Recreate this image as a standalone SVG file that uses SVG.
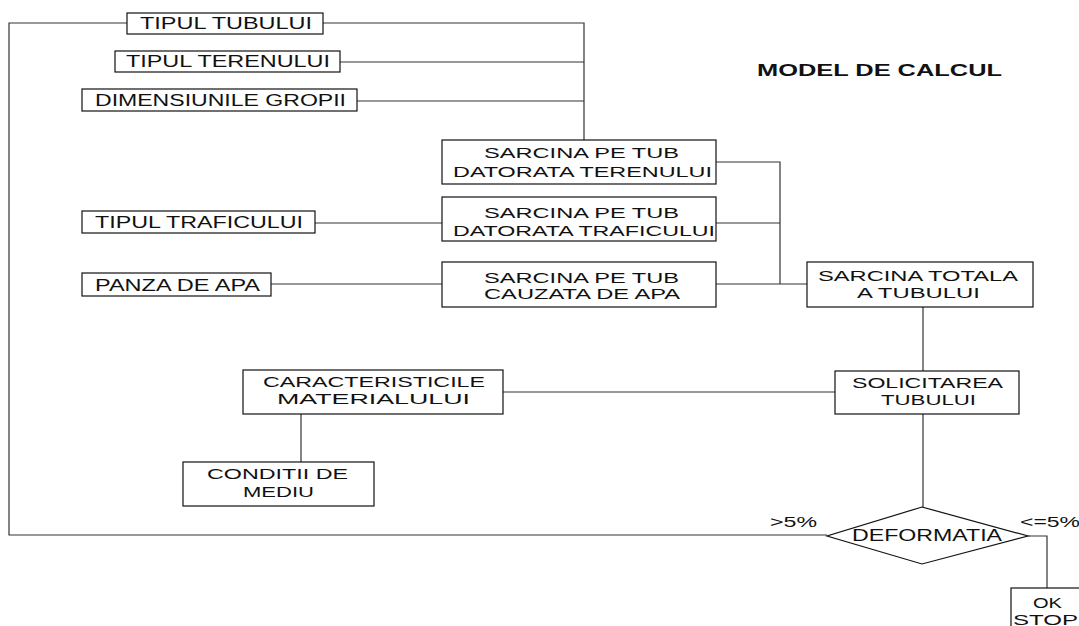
<svg xmlns="http://www.w3.org/2000/svg" width="1079" height="626" viewBox="0 0 1079 626">
<style>
.b{fill:#fff;stroke:#111;stroke-width:1.2}
.t{font-family:"Liberation Sans",Arial,sans-serif;font-size:15px;fill:#111}
.s{font-size:16px}
.c path{fill:none;stroke:#333;stroke-width:1.2}
</style>
<rect width="1079" height="626" fill="#fff"/>
<g class="c" id="connectors">
<path d="M127,23 H9 V535 H827"/>
<path d="M323,23 H584 V140"/>
<path d="M340,62 H584"/>
<path d="M357,101 H584"/>
<path d="M716,162 H780 V284"/>
<path d="M315,223 H442"/>
<path d="M716,223 H780"/>
<path d="M271,284 H442"/>
<path d="M716,284 H807"/>
<path d="M923,307 V371"/>
<path d="M503,392 H835"/>
<path d="M301,414 V462"/>
<path d="M923,414 V507"/>
<path d="M1028,536 H1047 V588"/>
</g>
<g id="title"><text class="t" x="757" y="76" font-size="17" font-weight="bold" style="font-size:17px" textLength="245" lengthAdjust="spacingAndGlyphs">MODEL DE CALCUL</text></g>
<g id="tipul-tubului"><rect class="b" x="127" y="13" width="196" height="21"/><text class="t s" x="140" y="29" textLength="172" lengthAdjust="spacingAndGlyphs">TIPUL TUBULUI</text></g>
<g id="tipul-terenului"><rect class="b" x="115" y="51" width="225" height="21"/><text class="t s" x="126" y="67" textLength="204" lengthAdjust="spacingAndGlyphs">TIPUL TERENULUI</text></g>
<g id="dimensiunile"><rect class="b" x="82" y="89" width="275" height="22"/><text class="t s" x="95" y="106" textLength="251" lengthAdjust="spacingAndGlyphs">DIMENSIUNILE GROPII</text></g>
<g id="sarcina-teren"><rect class="b" x="442" y="140" width="274" height="44"/><text class="t" x="484" y="158" textLength="195" lengthAdjust="spacingAndGlyphs">SARCINA PE TUB</text><text class="t" x="453" y="177" textLength="259" lengthAdjust="spacingAndGlyphs">DATORATA TERENULUI</text></g>
<g id="sarcina-trafic"><rect class="b" x="442" y="197" width="274" height="44"/><text class="t" x="484" y="218" textLength="195" lengthAdjust="spacingAndGlyphs">SARCINA PE TUB</text><text class="t" x="453" y="236" textLength="262" lengthAdjust="spacingAndGlyphs">DATORATA TRAFICULUI</text></g>
<g id="sarcina-apa"><rect class="b" x="442" y="262" width="274" height="45"/><text class="t" x="484" y="283" textLength="195" lengthAdjust="spacingAndGlyphs">SARCINA PE TUB</text><text class="t" x="484" y="299" textLength="196" lengthAdjust="spacingAndGlyphs">CAUZATA DE APA</text></g>
<g id="tipul-traficului"><rect class="b" x="82" y="211" width="233" height="22"/><text class="t s" x="95" y="228" textLength="208" lengthAdjust="spacingAndGlyphs">TIPUL TRAFICULUI</text></g>
<g id="panza"><rect class="b" x="82" y="273" width="189" height="23"/><text class="t s" x="95" y="291" textLength="165" lengthAdjust="spacingAndGlyphs">PANZA DE APA</text></g>
<g id="sarcina-totala"><rect class="b" x="807" y="262" width="226" height="45"/><text class="t" x="818" y="281" textLength="200" lengthAdjust="spacingAndGlyphs">SARCINA TOTALA</text><text class="t" x="857" y="298" textLength="123" lengthAdjust="spacingAndGlyphs">A TUBULUI</text></g>
<g id="solicitarea"><rect class="b" x="835" y="371" width="184" height="43"/><text class="t" x="852" y="388" textLength="151" lengthAdjust="spacingAndGlyphs">SOLICITAREA</text><text class="t" x="881" y="405" textLength="95" lengthAdjust="spacingAndGlyphs">TUBULUI</text></g>
<g id="caracteristicile"><rect class="b" x="243" y="370" width="260" height="44"/><text class="t" x="263" y="387" textLength="222" lengthAdjust="spacingAndGlyphs">CARACTERISTICILE</text><text class="t" x="277" y="404" textLength="193" lengthAdjust="spacingAndGlyphs">MATERIALULUI</text></g>
<g id="conditii"><rect class="b" x="183" y="462" width="191" height="44"/><text class="t" x="207" y="479" textLength="141" lengthAdjust="spacingAndGlyphs">CONDITII DE</text><text class="t" x="243" y="497" textLength="71" lengthAdjust="spacingAndGlyphs">MEDIU</text></g>
<g id="deformatia"><polygon class="b" points="922,507 1028,536 922,564 827,536"/><text class="t s" x="852" y="541" textLength="150" lengthAdjust="spacingAndGlyphs">DEFORMATIA</text></g>
<g id="labels"><text class="t" x="770" y="527" textLength="47" lengthAdjust="spacingAndGlyphs">&gt;5%</text><text class="t" x="1020" y="527" textLength="60" lengthAdjust="spacingAndGlyphs">&lt;=5%</text></g>
<g id="ok-stop"><rect class="b" x="1011" y="588" width="80" height="50"/><text class="t" x="1033" y="608" textLength="29" lengthAdjust="spacingAndGlyphs">OK</text><text class="t" x="1013" y="625" textLength="65" lengthAdjust="spacingAndGlyphs">STOP</text></g>
</svg>
